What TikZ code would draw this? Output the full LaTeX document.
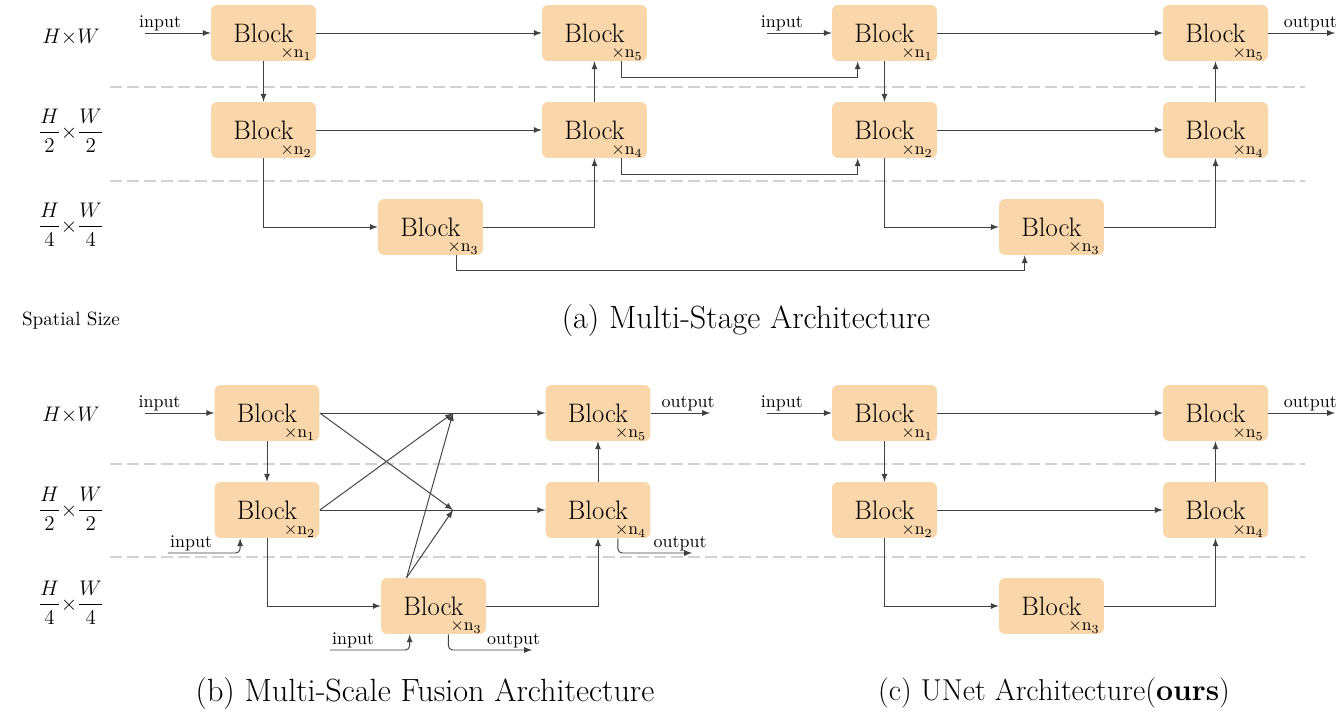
\documentclass[tikz,border=0pt]{standalone}
\usepackage{amsmath}
\usepackage{amssymb}
\usepackage{tikz}
\usetikzlibrary{arrows,calc}
\definecolor{blockfill}{RGB}{249,215,170}
\definecolor{linegray}{RGB}{65,65,65}
\definecolor{sepgray}{RGB}{210,210,210}
\tikzset{%
	block/.style   = {fill=blockfill, rounded corners=3.5pt, minimum width=2.1cm, minimum height=1.12cm, inner sep=0pt, text centered, font=\fontsize{15.2}{18}\selectfont},
	mult/.style    = {anchor=south east, inner xsep=2.5pt, inner ysep=0.3pt, font=\fontsize{10}{11}\selectfont},
	arrow/.style   = {draw=linegray, line width=0.55pt, -latex},
	tag/.style     = {inner sep=1pt, font=\fontsize{10.2}{12}\selectfont},
	sep/.style     = {draw=sepgray, line width=1.1pt, dash pattern=on 0.24cm off 0.1cm},
	size/.style    = {font=\fontsize{11.5}{13}\selectfont},
	caption/.style = {font=\fontsize{18.3}{21}\selectfont},
}

\begin{document}
\begin{tikzpicture}[x=0.02cm, y=-0.02cm]
	\useasboundingbox (0,0) rectangle (1343,720);
	% row separators
	\draw[sep] (110,87) -- (1305,87);
	\draw[sep] (110,181) -- (1305,181);
	\draw[sep] (110,464) -- (1305,464);
	\draw[sep] (110,557) -- (1305,557);
	
	% spatial sizes
	\node[size] at (71,37) {$H{\times}W$};
	\node[size] at (71,131) {$\dfrac{H}{2}{\times}\dfrac{W}{2}$};
	\node[size] at (71,225) {$\dfrac{H}{4}{\times}\dfrac{W}{4}$};
	\node[size] at (71,415) {$H{\times}W$};
	\node[size] at (71,509) {$\dfrac{H}{2}{\times}\dfrac{W}{2}$};
	\node[size] at (71,603) {$\dfrac{H}{4}{\times}\dfrac{W}{4}$};
	\node[font=\fontsize{10.9}{13}\selectfont] at (71,321) {Spatial Size};
	
	% (a) multi-stage, first stage
	\node[block, label={[mult]south east:$\times\mathrm{n}_1$}] (ma1) at (263.5,33) {Block};
	\node[block, label={[mult]south east:$\times\mathrm{n}_2$}] (ma2) at (263.5,130) {Block};
	\node[block, label={[mult]south east:$\times\mathrm{n}_3$}] (ma3) at (430.5,227) {Block};
	\node[block, label={[mult]south east:$\times\mathrm{n}_4$}] (ma4) at (594.5,130) {Block};
	\node[block, label={[mult]south east:$\times\mathrm{n}_5$}] (ma5) at (594.5,33) {Block};
	\coordinate (ma-in) at (145,33);
	\draw[arrow] (ma-in) -- node[tag, above, pos=0.23] {input} (ma1);
	\draw[arrow] (ma1) -- (ma5);
	\draw[arrow] (ma1) -- (ma2);
	\draw[arrow] (ma2) -- (ma4);
	\draw[arrow] (ma2) |- (ma3);
	\draw[arrow] (ma3) -| (ma4);
	\draw[arrow] (ma4) -- (ma5);
	
	% (a) multi-stage, second stage
	\node[block, label={[mult]south east:$\times\mathrm{n}_1$}] (mb1) at (884.5,33) {Block};
	\node[block, label={[mult]south east:$\times\mathrm{n}_2$}] (mb2) at (884.5,130) {Block};
	\node[block, label={[mult]south east:$\times\mathrm{n}_3$}] (mb3) at (1051.5,227) {Block};
	\node[block, label={[mult]south east:$\times\mathrm{n}_4$}] (mb4) at (1215.5,130) {Block};
	\node[block, label={[mult]south east:$\times\mathrm{n}_5$}] (mb5) at (1215.5,33) {Block};
	\coordinate (mb-in) at (767,33);
	\coordinate (mb-out) at (1335,33);
	\draw[arrow] (mb-in) -- node[tag, above, pos=0.23] {input} (mb1);
	\draw[arrow] (mb1) -- (mb5);
	\draw[arrow] (mb1) -- (mb2);
	\draw[arrow] (mb2) -- (mb4);
	\draw[arrow] (mb2) |- (mb3);
	\draw[arrow] (mb3) -| (mb4);
	\draw[arrow] (mb4) -- (mb5);
	\draw[arrow] (mb5) -- node[tag, above, pos=0.63] {output} (mb-out);
	
	% links between the stages
	\draw[arrow] ($(ma5.south east)+(-26,0)$) -- ++(0,16) -| ($(mb1.south west)+(26,0)$);
	\draw[arrow] ($(ma4.south east)+(-26,0)$) -- ++(0,16) -| ($(mb2.south west)+(26,0)$);
	\draw[arrow] ($(ma3.south east)+(-27,0)$) -- ++(0,15) -| ($(mb3.south west)+(26,0)$);
	\node[caption] at (746,320) {(a) Multi-Stage Architecture};
	
	% (b) multi-scale fusion
	\node[block, label={[mult]south east:$\times\mathrm{n}_1$}] (fu1) at (267,413) {Block};
	\node[block, label={[mult]south east:$\times\mathrm{n}_2$}] (fu2) at (267,510) {Block};
	\node[block, label={[mult]south east:$\times\mathrm{n}_3$}] (fu3) at (433.5,606) {Block};
	\node[block, label={[mult]south east:$\times\mathrm{n}_4$}] (fu4) at (598,510) {Block};
	\node[block, label={[mult]south east:$\times\mathrm{n}_5$}] (fu5) at (598,413) {Block};
	\coordinate (fu-in1) at (145,413);
	\coordinate (fu-in2) at (168,553);
	\coordinate (fu-in3) at (330,650);
	\coordinate (fu-out5) at (710,413);
	\coordinate (fu-out4) at (692,553);
	\coordinate (fu-out3) at (532,650);
	\coordinate (fu-j5) at (453,413);
	\coordinate (fu-j4) at (453,510);
	\draw[arrow] (fu-in1) -- node[tag, above, pos=0.21] {input} (fu1);
	\draw[arrow] (fu1) -- (fu5);
	\draw[arrow] (fu2) -- (fu4);
	\draw[arrow] (fu1) -- (fu2);
	\draw[arrow] (fu1.east) -- (fu-j4);
	\draw[arrow] (fu2.east) -- (fu-j5);
	\draw[arrow] ($(fu3.north west)+(26,0)$) -- (fu-j5);
	\draw[arrow] ($(fu3.north west)+(26,0)$) -- (fu-j4);
	\draw[arrow] (fu2) |- (fu3);
	\draw[arrow] (fu3) -| (fu4);
	\draw[arrow] (fu4) -- (fu5);
	\draw[arrow] (fu5) -- node[tag, above, pos=0.63] {output} (fu-out5);
	\draw[arrow, rounded corners=2.5pt] (fu-in2) node[tag, anchor=south west] {input} -| ($(fu2.south west)+(26,0)$);
	\draw[arrow, rounded corners=2.5pt] (fu-in3) node[tag, anchor=south west] {input} -| ($(fu3.south west)+(29,0)$);
	\draw[arrow, rounded corners=2.5pt] ($(fu4.south east)+(-33,0)$) |- node[tag, above, pos=0.92] {output} (fu-out4);
	\draw[arrow, rounded corners=2.5pt] ($(fu3.south east)+(-38,0)$) |- node[tag, above, pos=0.89] {output} (fu-out3);
	\node[caption] at (425,693) {(b) Multi-Scale Fusion Architecture};
	
	% (c) unet
	\node[block, label={[mult]south east:$\times\mathrm{n}_1$}] (un1) at (884.5,413) {Block};
	\node[block, label={[mult]south east:$\times\mathrm{n}_2$}] (un2) at (884.5,510) {Block};
	\node[block, label={[mult]south east:$\times\mathrm{n}_3$}] (un3) at (1051.5,606) {Block};
	\node[block, label={[mult]south east:$\times\mathrm{n}_4$}] (un4) at (1215.5,510) {Block};
	\node[block, label={[mult]south east:$\times\mathrm{n}_5$}] (un5) at (1215.5,413) {Block};
	\coordinate (un-in) at (767,413);
	\coordinate (un-out) at (1335,413);
	\draw[arrow] (un-in) -- node[tag, above, pos=0.23] {input} (un1);
	\draw[arrow] (un1) -- (un5);
	\draw[arrow] (un1) -- (un2);
	\draw[arrow] (un2) -- (un4);
	\draw[arrow] (un2) |- (un3);
	\draw[arrow] (un3) -| (un4);
	\draw[arrow] (un4) -- (un5);
	\draw[arrow] (un5) -- node[tag, above, pos=0.63] {output} (un-out);
	\node[caption, font=\fontsize{17.2}{20}\selectfont] at (1054,693) {(c) UNet Architecture(\textbf{ours})};
\end{tikzpicture}
\end{document}
